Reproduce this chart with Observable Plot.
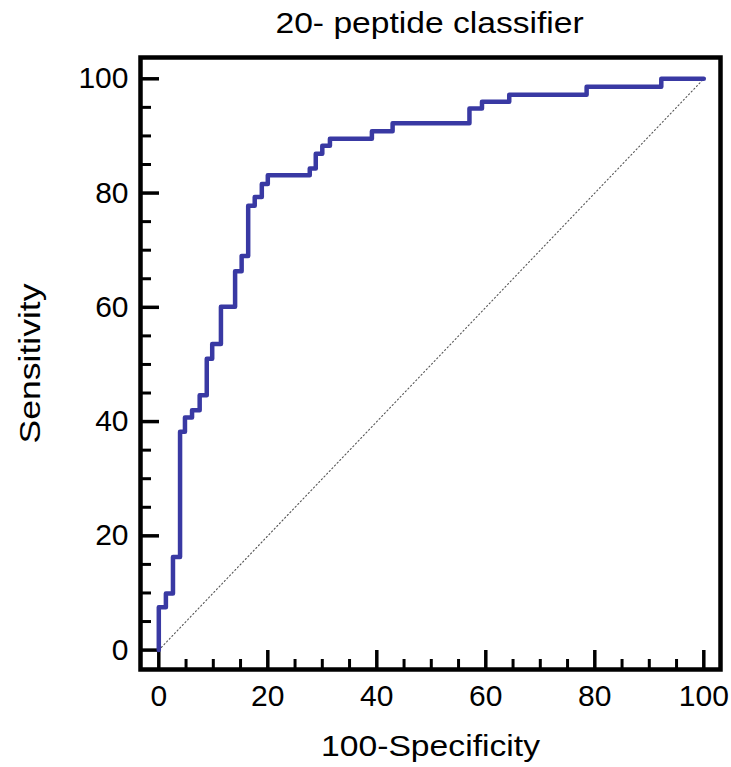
<!DOCTYPE html>
<html>
<head>
<meta charset="utf-8">
<script src="https://cdn.jsdelivr.net/npm/d3@7"></script>
<script src="https://cdn.jsdelivr.net/npm/@observablehq/plot@0.6"></script>
<style>
  html, body { margin: 0; padding: 0; background: #fff; }
  #title {
    width: 731px; height: 40px; box-sizing: border-box; padding-left: 129px;
    text-align: center; font-family: "Liberation Sans", Arial, sans-serif;
    font-size: 30px; line-height: 46px; color: #000;
  }
  #title span { display: inline-block; transform: scaleX(1.12); transform-origin: center; }
  #chart svg { display: block; }
</style>
</head>
<body>
<div id="title"><span>20- peptide classifier</span></div>
<div id="chart"></div>
<script>
// ROC curve vertices (step-after): 100-Specificity and Sensitivity
const fpr  = [0, 0,   1.3, 2.6,  3.9,  4.8,  6.1,  7.5,  8.8,  9.8,  11.4, 14.0, 15.2, 16.4, 17.6, 18.9, 20.0, 27.7, 28.8, 30.0, 31.4, 39.1, 42.9, 57.0, 59.3, 64.3, 78.5, 92.2, 100];
const sens = [0, 7.5, 9.9, 16.3, 38.2, 40.7, 42.0, 44.6, 51.0, 53.6, 60.1, 66.3, 69.0, 77.8, 79.3, 81.6, 83.1, 84.3, 86.9, 88.3, 89.5, 90.8, 92.2, 94.8, 96.0, 97.2, 98.6, 100, 100];

// Reference (chance) diagonal
const diagX = [0, 100];
const diagY = [0, 100];

// Ticks
const majorTicks = [0, 20, 40, 60, 80, 100];
const minorTicks = [5, 10, 15, 25, 30, 35, 45, 50, 55, 65, 70, 75, 85, 90, 95];

const xLabel = "100-Specificity";
const yLabel = "Sensitivity";

const roc = fpr.map((x, i) => ({x, y: sens[i]}));
const diag = diagX.map((x, i) => ({x, y: diagY[i]}));

const W = 731, H = 727;
const mT = 17, mB = 98, mL = 140, mR = 11;
const frameH = H - mT - mB, frameW = W - mL - mR;

const plot = Plot.plot({
  width: W, height: H,
  marginTop: mT, marginBottom: mB, marginLeft: mL, marginRight: mR,
  style: {fontFamily: '"Liberation Sans", Arial, sans-serif', background: "#fff", color: "#000"},
  x: {domain: [0, 100], insetLeft: 18.3, insetRight: 16.7, axis: null},
  y: {domain: [0, 100], insetTop: 21.3, insetBottom: 19.4, axis: null},
  marks: [
    Plot.line(diag, {x: "x", y: "y", stroke: "#555", strokeWidth: 1.1, strokeDasharray: "1.2,2.6"}),
    Plot.ruleX(majorTicks, {x: d => d, insetTop: frameH - 19, stroke: "#000", strokeWidth: 3.5}),
    Plot.ruleX(minorTicks, {x: d => d, insetTop: frameH - 10, stroke: "#000", strokeWidth: 3}),
    Plot.ruleY(majorTicks, {y: d => d, insetRight: frameW - 19, stroke: "#000", strokeWidth: 3.5}),
    Plot.ruleY(minorTicks, {y: d => d, insetRight: frameW - 11, stroke: "#000", strokeWidth: 3}),
    Plot.line(roc, {x: "x", y: "y", curve: "step-after", stroke: "#3939a3", strokeWidth: 4.5}),
    Plot.frame({stroke: "#000", strokeWidth: 4.5}),
    Plot.text(majorTicks, {x: d => d, text: d => String(d), frameAnchor: "bottom", dy: 27, lineAnchor: "middle", fontSize: 30, fill: "#000"}),
    Plot.text(majorTicks, {y: d => d, text: d => String(d), frameAnchor: "left", dx: -12, textAnchor: "end", lineAnchor: "middle", fontSize: 30, fill: "#000"}),
    Plot.text([xLabel], {text: d => d, frameAnchor: "bottom", dy: 77, textAnchor: "middle", lineAnchor: "middle", fontSize: 30, fill: "#000"}),
    Plot.text([yLabel], {text: d => d, frameAnchor: "left", dx: -110, rotate: -90, textAnchor: "middle", lineAnchor: "middle", fontSize: 30, fill: "#000"})
  ]
});
// stretch axis titles to the reference's wider lettering
plot.querySelectorAll("text").forEach(t => {
  if (t.textContent === xLabel) { t.setAttribute("textLength", 219); t.setAttribute("lengthAdjust", "spacingAndGlyphs"); }
  if (t.textContent === yLabel) { t.setAttribute("textLength", 160); t.setAttribute("lengthAdjust", "spacingAndGlyphs"); }
});
document.getElementById("chart").appendChild(plot);
</script>
</body>
</html>
